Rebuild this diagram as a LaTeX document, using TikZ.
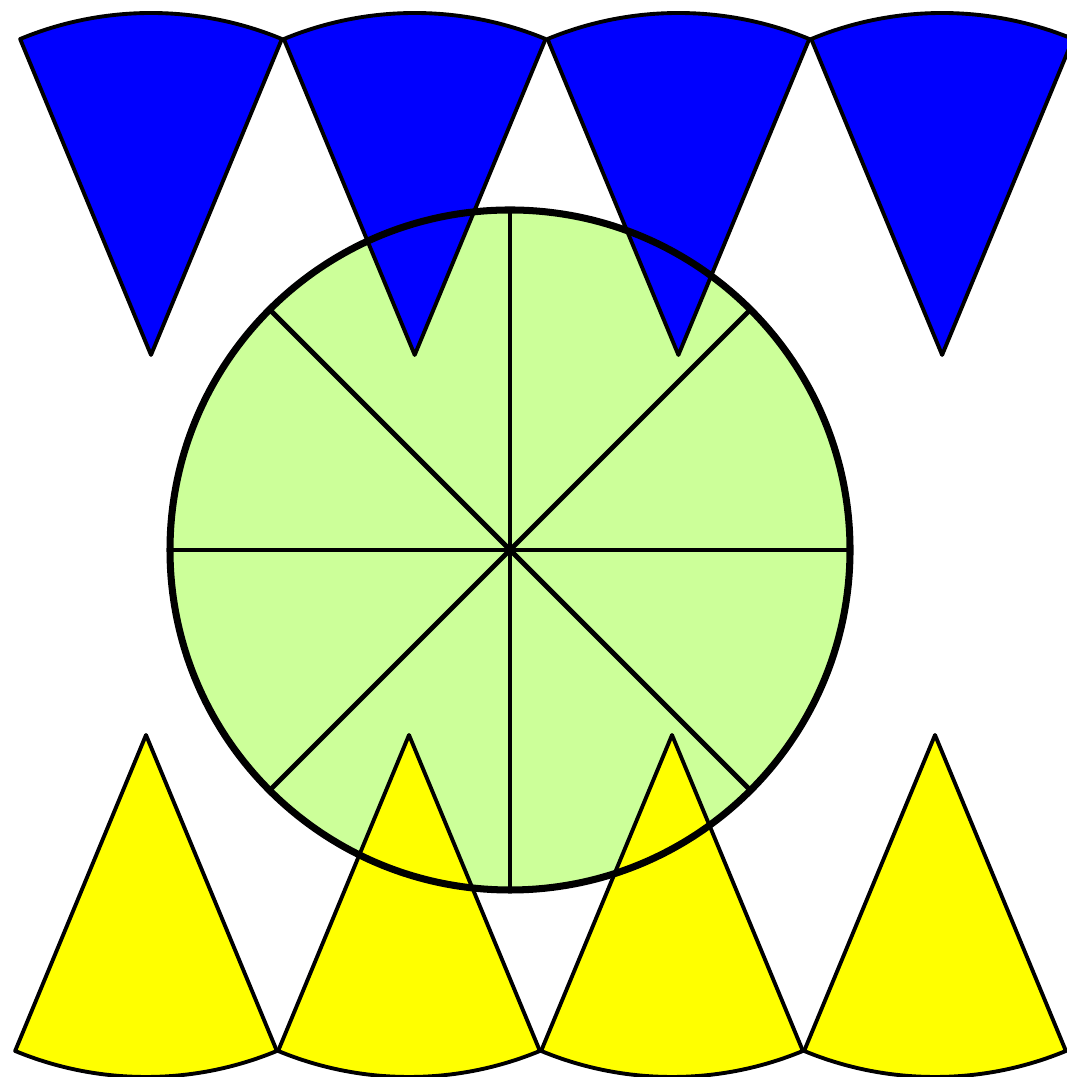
\documentclass[tikz,border=0pt]{standalone}
\definecolor{sectorgreen}{HTML}{CCFF99}
\definecolor{sectorblue}{RGB}{0,0,255}
\definecolor{sectoryellow}{RGB}{255,255,0}
\begin{document}
\begin{tikzpicture}[x=0.01cm, y=0.01cm]
    \useasboundingbox (0,0) rectangle (1066,1077);
    % 圆心
    \coordinate (O) at (510,527);

    % 圆: 八个扇形
    \fill[sectorgreen] (O) circle[radius=340];
    \foreach \a in {0,45,...,315}
        \draw[line width=1.4pt] (O) -- ++(\a:340);

    % 上排扇形 (蓝)
    \foreach \i in {0,...,3}
        \filldraw[fill=sectorblue, line width=1.1pt, line join=round]
            ({151+263.7*\i},722) -- ++(67.5:342)
            arc[start angle=67.5, end angle=112.5, radius=342] -- cycle;

    % 下排扇形 (黄)
    \foreach \i in {0,...,3}
        \filldraw[fill=sectoryellow, line width=1.1pt, line join=round]
            ({146+263*\i},342) -- ++(247.5:342)
            arc[start angle=247.5, end angle=292.5, radius=342] -- cycle;

    % 圆周
    \draw[line width=2pt] (O) circle[radius=340];
\end{tikzpicture}
\end{document}
